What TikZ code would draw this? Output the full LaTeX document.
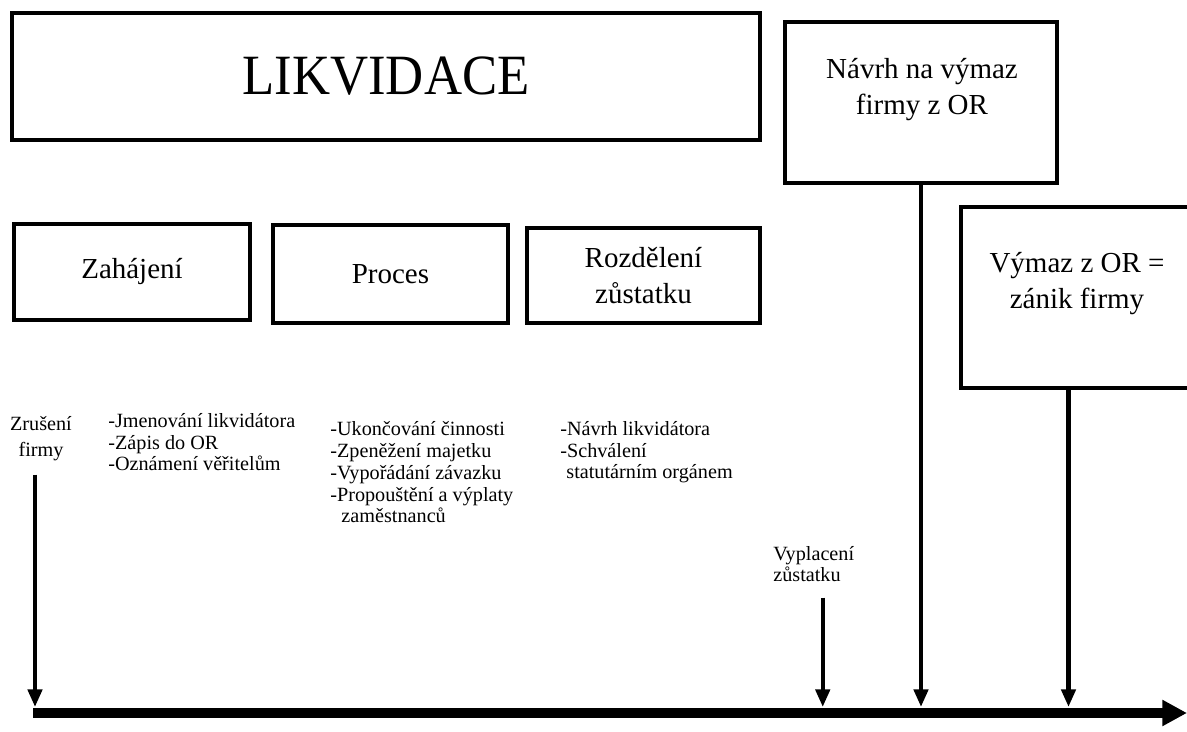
\documentclass[tikz,border=0pt]{standalone}
\usepackage{fontspec}
\setmainfont{Liberation Serif}
\usepackage{graphicx}
\usetikzlibrary{positioning, calc, arrows.meta}

\tikzset{
    box/.style={draw, line width=2.6pt, inner sep=0pt, align=center, font=\fontsize{16.5}{20.5}\selectfont},
    boxtext/.style={align=center, inner sep=0pt, font=\fontsize{16.5}{20.5}\selectfont},
    note/.style={align=left, inner sep=0pt, anchor=base west, font=\fontsize{11.5}{12.5}\selectfont},
    varrow/.style={line width=2.4pt, -{Triangle[width=8pt,length=10pt]}},
    timeline/.style={line width=5.6pt, -{Triangle[width=14pt,length=14pt]}},
}

\begin{document}
\begin{tikzpicture}[x=0.02cm, y=-0.02cm]
        \useasboundingbox (0,0) rectangle (1187,732);

        \coordinate (tlstart) at (33,713);
        \coordinate (tlend)   at (1187,713);
        \coordinate (tltop)   at (0,707);

        % big boxes
        \node[box, minimum width=14.96cm, minimum height=2.54cm] (likv) at (386,76.5)
            {\fontsize{30}{34}\selectfont\scalebox{1}[1.08]{LIKVIDACE}};
        \node[box, minimum width=5.44cm, minimum height=3.22cm] (navrh) at (921,102.5) {};
        \node[boxtext] (navrhtxt) at (922,90) {Návrh na výmaz\\firmy z OR};
        \node[box, minimum width=4.78cm, minimum height=3.62cm] (vymaz) at (1080.5,297.5) {};
        \node[boxtext] (vymaztxt) at (1077,284) {Výmaz z OR =\\zánik firmy};

        % phases
        \node[box, minimum width=4.72cm, minimum height=1.92cm] (zahaj)  at (132,272)    {Zahájení};
        \node[box, minimum width=4.70cm, minimum height=1.96cm] (proces) at (390.5,274)  {Proces};
        \node[box, minimum width=4.66cm, minimum height=1.90cm] (rozdel) at (643.5,275.5) {Rozdělení\\zůstatku};

        % notes under phases (anchored at baseline of last line)
        \node[note] (zahajlist)  at (108,471) {-Jmenování likvidátora\\-Zápis do OR\\-Oznámení věřitelům};
        \node[note] (proceslist) at (330,523) {-Ukončování činnosti\\-Zpeněžení majetku\\-Vypořádání závazku\\-Propouštění a výplaty\\\hspace*{0.55em}zaměstnanců};
        \node[note] (rozdellist) at (560,479) {-Návrh likvidátora\\-Schválení\\\hspace*{0.3em}statutárním orgánem};

        % events
        \node[align=center, inner sep=0pt, anchor=base, font=\fontsize{11.5}{15.3}\selectfont] (zruseni) at (41,457) {Zrušení\\firmy};
        \node[note] (vyplac) at (773,582) {Vyplacení\\zůstatku};

        \draw[varrow] ($(zruseni.south)+(-6,13)$) to ($(zruseni.south |- tltop)+(-6,0)$);
        \draw[varrow] ($(vyplac.south)+(9,15)$)   to ($(vyplac.south |- tltop)+(9,0)$);
        \draw[varrow] (navrh.south) to (navrh.south |- tltop);
        \draw[varrow] ($(vymaz.south)+(-12,0)$)   to ($(vymaz.south |- tltop)+(-12,0)$);

        \draw[timeline] (tlstart) to (tlend);   %time axis
\end{tikzpicture}
\end{document}
